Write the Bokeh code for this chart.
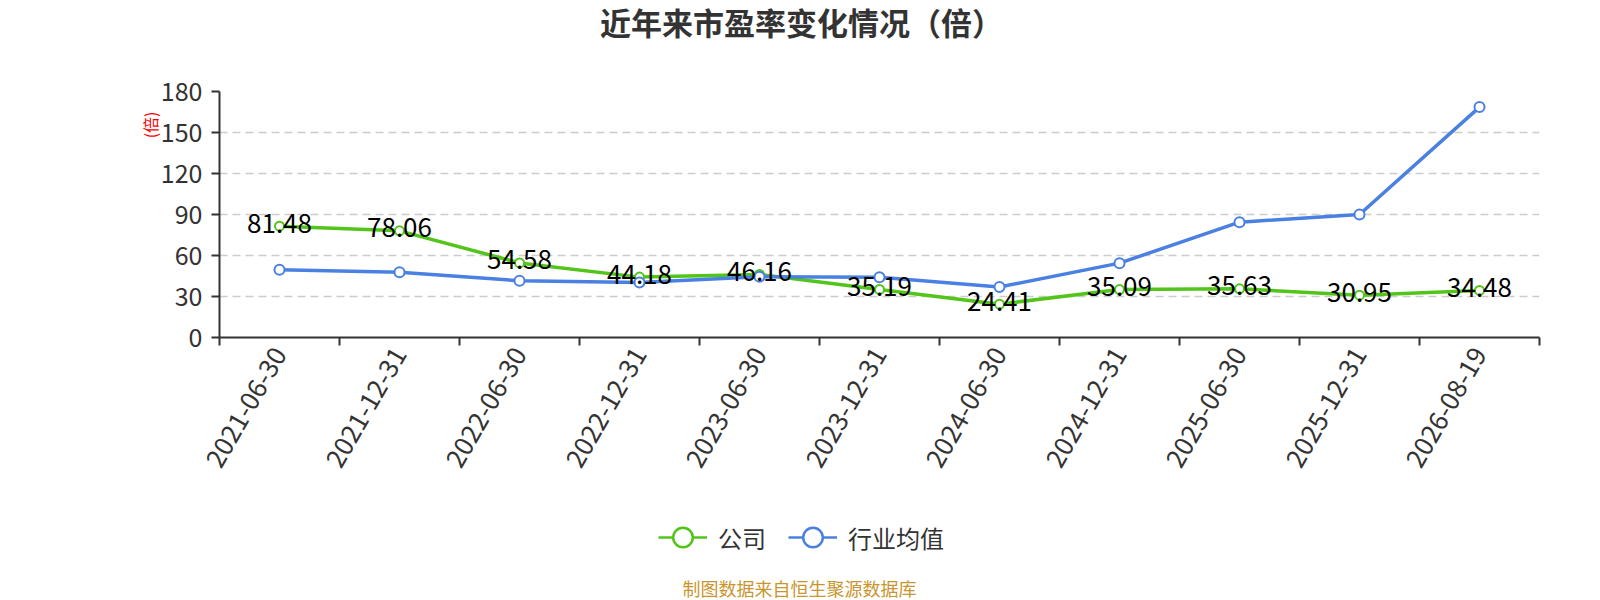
import math
from bokeh.plotting import figure
from bokeh.layouts import column
from bokeh.core.properties import value
from bokeh.models import (Range1d, FixedTicker, ColumnDataSource, LabelSet, Label, Title,
                          Legend, LegendItem)
from bokeh.embed import file_html
from bokeh.resources import INLINE

# ---------------- data ----------------
dates = ["2021-06-30", "2021-12-31", "2022-06-30", "2022-12-31", "2023-06-30",
         "2023-12-31", "2024-06-30", "2024-12-31", "2025-06-30", "2025-12-31",
         "2026-08-19"]
company = [81.48, 78.06, 54.58, 44.18, 46.16, 35.19, 24.41, 35.09, 35.63, 30.95, 34.48]
industry = [49.5, 47.8, 41.5, 40.3, 44.5, 44.0, 37.0, 54.4, 84.4, 90.0, 168.6]
y_ticks = [0, 30, 60, 90, 120, 150, 180]
series_names = ["公司", "行业均值"]
title_text = "近年来市盈率变化情况（倍）"
unit_text = "(倍)"
source_text = "制图数据来自恒生聚源数据库"

# ---------------- style ----------------
FONT = "Noto Sans CJK SC"
GREEN = "#52c41a"
BLUE = "#4a80e2"
AXIS = "#333333"
W = 1600
LEFT, RIGHT = 219, 61                     # plot-area borders shared by all strips
TOP_H, MAIN_H, BOT_H = 71, 439, 90
NAN = float("nan")


def blank(height):
    # page-pixel coordinates inside the (column-aligned) plot area
    f = figure(width=W, height=height, x_range=Range1d(LEFT, W - RIGHT),
               y_range=Range1d(0, height), output_backend="svg", toolbar_location=None,
               x_axis_location=None, y_axis_location=None,
               min_border_left=LEFT, min_border_right=RIGHT,
               min_border_top=0, min_border_bottom=0)
    f.outline_line_color = None
    f.grid.visible = False
    f.background_fill_color = "white"
    f.border_fill_color = "white"
    return f


# ---------------- title strip ----------------
top = blank(TOP_H)
top.add_layout(Label(x=801, y=TOP_H - 20.5, text=title_text, text_align="center",
                     text_baseline="middle", text_font=FONT, text_font_size="31px",
                     text_font_style="bold", text_color=AXIS))

# ---------------- main chart ----------------
x = list(range(len(dates)))
src = ColumnDataSource(dict(x=x, company=company, industry=industry,
                            label=[f"{v:.2f}" for v in company]))

p = figure(width=W, height=MAIN_H,
           x_range=Range1d(-0.5, len(dates) - 0.5), y_range=Range1d(y_ticks[0], y_ticks[-1]),
           output_backend="svg", toolbar_location=None,
           min_border_left=LEFT, min_border_right=RIGHT, min_border_top=20,
           min_border_bottom=173)
p.outline_line_color = None
p.background_fill_color = "white"
p.border_fill_color = "white"

p.xgrid.visible = False
p.ygrid.ticker = FixedTicker(ticks=y_ticks)
p.ygrid.grid_line_color = "#cccccc"
p.ygrid.grid_line_width = 1.5
p.ygrid.grid_line_dash = "8 5"

ya = p.yaxis[0]
ya.ticker = FixedTicker(ticks=y_ticks)
ya.axis_line_color = AXIS
ya.axis_line_width = 2
ya.major_tick_line_color = AXIS
ya.major_tick_line_width = 2
ya.major_tick_in = 0
ya.major_tick_out = 8
ya.minor_tick_line_color = None
ya.major_label_standoff = 9
ya.major_label_text_font = FONT
ya.major_label_text_font_size = "25px"
ya.major_label_text_color = AXIS

xa = p.xaxis[0]
xa.ticker = FixedTicker(ticks=x, minor_ticks=[i - 0.5 for i in range(len(dates) + 1)])
xa.major_label_overrides = {i: d for i, d in zip(x, dates)}
xa.axis_line_color = AXIS
xa.axis_line_width = 2
xa.major_tick_line_color = None
xa.major_tick_in = 0
xa.major_tick_out = 8
xa.minor_tick_line_color = AXIS
xa.minor_tick_line_width = 2
xa.minor_tick_in = 0
xa.minor_tick_out = 8
xa.major_label_standoff = 4
xa.major_label_orientation = math.pi / 3
xa.major_label_text_font = FONT
xa.major_label_text_font_size = "26px"
xa.major_label_text_color = AXIS

p.line("x", "company", source=src, line_color=GREEN, line_width=3.5)
p.scatter("x", "company", source=src, marker="circle", size=9, fill_color="white",
          line_color=GREEN, line_width=2)
p.line("x", "industry", source=src, line_color=BLUE, line_width=3.5)
p.scatter("x", "industry", source=src, marker="circle", size=10, fill_color="white",
          line_color=BLUE, line_width=2)

p.add_layout(LabelSet(x="x", y="company", text="label", source=src, text_align="center",
                      text_baseline="middle", y_offset=3, text_font=value(FONT),
                      text_font_size=value("26px"), text_color="#000000"))

p.add_layout(Title(text=unit_text, align="right", offset=20, standoff=-9, text_font=FONT,
                   text_font_size="16px", text_font_style="normal",
                   text_color="#ff0000"), "left")

# ---------------- legend + source strip ----------------
bot = blank(BOT_H)
lg_line = bot.line(x=[NAN], y=[NAN], line_color=GREEN, line_width=2.5)
lg_dot = bot.scatter(x=[NAN], y=[NAN], marker="circle", size=20, fill_color="white",
                     line_color=GREEN, line_width=2.5)
lb_line = bot.line(x=[NAN], y=[NAN], line_color=BLUE, line_width=2.5)
lb_dot = bot.scatter(x=[NAN], y=[NAN], marker="circle", size=20, fill_color="white",
                     line_color=BLUE, line_width=2.5)
bot.add_layout(Legend(items=[LegendItem(label=series_names[0], renderers=[lg_line, lg_dot]),
                             LegendItem(label=series_names[1], renderers=[lb_line, lb_dot])],
                      location=(658 - LEFT, BOT_H - 27 - 25), orientation="horizontal",
                      glyph_width=49, glyph_height=50, label_standoff=11, spacing=22,
                      padding=0, margin=0, border_line_color=None, background_fill_alpha=0,
                      label_text_font=FONT, label_text_font_size="24px",
                      label_text_color=AXIS))
bot.add_layout(Label(x=799, y=BOT_H - 77, text=source_text, text_align="center",
                     text_baseline="middle", text_font=FONT, text_font_size="18px",
                     text_color="#c8962e"))

layout = column(top, p, bot, spacing=0)
open("out.html", "w").write(file_html(layout, INLINE))
